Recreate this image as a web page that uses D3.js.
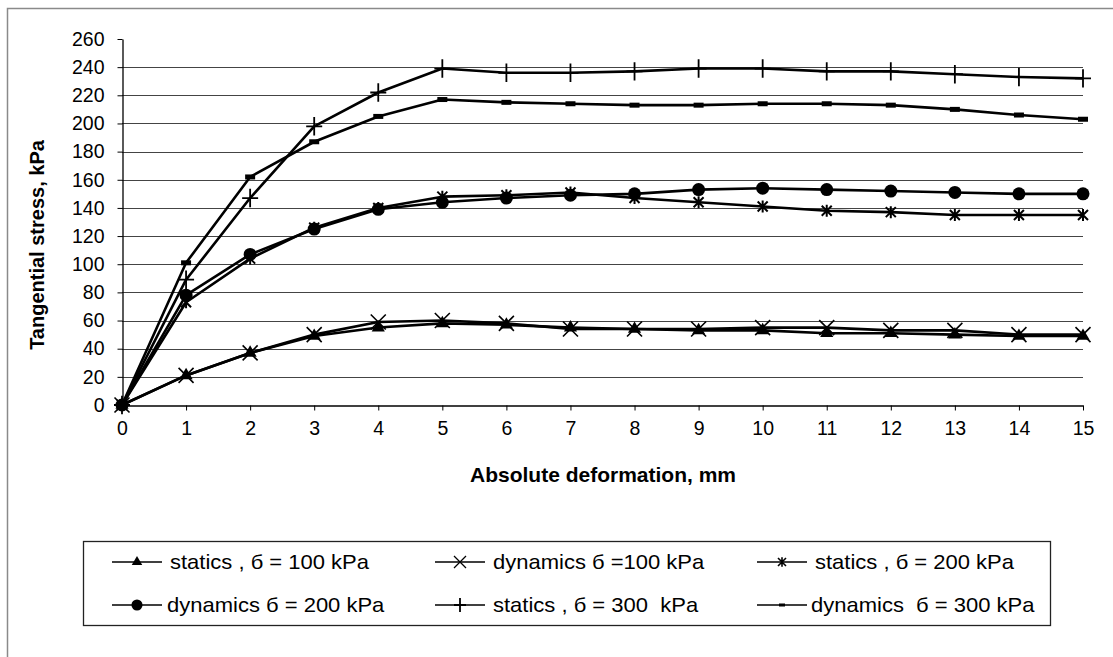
<!DOCTYPE html>
<html><head><meta charset="utf-8">
<script src="https://cdn.jsdelivr.net/npm/d3@7"></script>
<style>body{margin:0;background:#fff}svg{display:block}text{white-space:pre}</style>
</head><body>
<svg id="c" width="1113" height="657"></svg>
<script>
const deformation = [0,1,2,3,4,5,6,7,8,9,10,11,12,13,14,15];
const statics100  = [0,21,37,49,55,58,57,55,54,53,53,51,51,50,49,49];
const dynamics100 = [0,21,37,50,59,60,58,54,54,54,55,55,53,53,50,50];
const statics200  = [0,73,104,126,140,148,149,151,147,144,141,138,137,135,135,135];
const dynamics200 = [0,78,107,125,139,144,147,149,150,153,154,153,152,151,150,150];
const statics300  = [0,89,147,198,222,239,236,236,237,239,239,237,237,235,233,232];
const dynamics300 = [0,101,162,187,205,217,215,214,213,213,214,214,213,210,206,203];
const yTicks = [0,20,40,60,80,100,120,140,160,180,200,220,240,260];
const seriesNames = ["statics , б = 100 kPa","dynamics б =100 kPa","statics , б = 200 kPa",
                     "dynamics б = 200 kPa","statics , б = 300  kPa","dynamics  б = 300 kPa"];
const seriesMarkers = ["triangle","cross","asterisk","circle","plus","dash"];
const seriesValues = [statics100,dynamics100,statics200,dynamics200,statics300,dynamics300];

const svg = d3.select("#c");
const font = "Liberation Sans, Arial, sans-serif";

// outer frame
svg.append("path").attr("d","M7.5,657 V8.5 H1113").attr("fill","none").attr("stroke","#8a8a8a").attr("stroke-width",1.5);

const x = d3.scaleLinear().domain([0,15]).range([122,1083]);
const y = d3.scaleLinear().domain([0,260]).range([405,39]);

// grid
svg.append("g").selectAll("line").data(yTicks.filter(d=>d>0 && d<260)).join("line")
  .attr("x1",x(0)).attr("x2",x(15)).attr("y1",d=>Math.round(y(d))+0.5).attr("y2",d=>Math.round(y(d))+0.5)
  .attr("stroke","#444").attr("stroke-width",1);

// y axis
const ya = svg.append("g").attr("transform","translate(122.5,0)")
  .call(d3.axisLeft(y).tickValues(yTicks).tickSize(5).tickPadding(13).tickSizeOuter(0));
ya.select(".domain").attr("stroke","#000").attr("stroke-width",1.3);
ya.selectAll(".tick line").attr("stroke","#000");
ya.selectAll("text").attr("font-family",font).attr("font-size",19.5).attr("fill","#000");

// x axis
const xa = svg.append("g").attr("transform","translate(0,405.5)")
  .call(d3.axisBottom(x).tickValues(deformation).tickSize(5).tickPadding(11).tickSizeOuter(0));
xa.select(".domain").attr("stroke","#000").attr("stroke-width",1.3);
xa.selectAll(".tick line").attr("stroke","#000");
xa.selectAll("text").attr("font-family",font).attr("font-size",19.5).attr("fill","#000");

// titles
svg.append("text").attr("x",603).attr("y",482).attr("text-anchor","middle")
  .attr("font-family",font).attr("font-weight","bold").attr("font-size",21).text("Absolute deformation, mm");
svg.append("text").attr("transform","translate(44,245) rotate(-90)").attr("text-anchor","middle")
  .attr("font-family",font).attr("font-weight","bold").attr("font-size",20).text("Tangential stress, kPa");

function marker(g, type, cx, cy, s){
  s = s||1;
  if(type==="triangle"){
    g.append("path").attr("d",d3.symbol(d3.symbolTriangle,75*s*s)()).attr("transform",`translate(${cx},${cy})`).attr("fill","#000");
  } else if(type==="circle"){
    g.append("circle").attr("cx",cx).attr("cy",cy).attr("r",6.5*s).attr("fill","#000");
  } else if(type==="cross"){
    const r=7.5*s;
    g.append("path").attr("d",`M${cx-r},${cy-r}L${cx+r},${cy+r}M${cx-r},${cy+r}L${cx+r},${cy-r}`).attr("stroke","#000").attr("stroke-width",1.6*Math.max(s,0.7)).attr("fill","none");
  } else if(type==="asterisk"){
    const r=5*s;
    g.append("path").attr("d",`M${cx-r},${cy-r}L${cx+r},${cy+r}M${cx-r},${cy+r}L${cx+r},${cy-r}M${cx},${cy-r*1.2}L${cx},${cy+r*1.2}`).attr("stroke","#000").attr("stroke-width",2*Math.max(s,0.7)).attr("fill","none");
  } else if(type==="plus"){
    const r=8*s;
    g.append("path").attr("d",`M${cx-r},${cy}L${cx+r},${cy}M${cx},${cy-r*1.15}L${cx},${cy+r*1.15}`).attr("stroke","#000").attr("stroke-width",1.8).attr("fill","none");
  } else if(type==="dash"){
    g.append("rect").attr("x",cx-5*s).attr("y",cy-2.5*s).attr("width",10*s).attr("height",5*s).attr("fill","#000");
  }
}

const line = d3.line().x((d,i)=>x(deformation[i])).y(d=>y(d));
const plot = svg.append("g");
seriesValues.forEach((vals,k)=>{
  plot.append("path").datum(vals).attr("d",line).attr("fill","none").attr("stroke","#000").attr("stroke-width",2.6).attr("stroke-linejoin","round");
});
seriesValues.forEach((vals,k)=>{
  vals.forEach((v,i)=>marker(plot, seriesMarkers[k], x(deformation[i]), y(v), 1));
});

// legend
svg.append("rect").attr("x",83.5).attr("y",541.5).attr("width",967).attr("height",84)
  .attr("fill","none").attr("stroke","#222").attr("stroke-width",1.3);
const colX = [112,435,757];
const rowY = [562,605];
seriesNames.forEach((name,k)=>{
  const cx = colX[k%3], cy = rowY[Math.floor(k/3)];
  const g = svg.append("g");
  g.append("line").attr("x1",cx).attr("x2",cx+50).attr("y1",cy).attr("y2",cy).attr("stroke","#000").attr("stroke-width",1.3);
  const ms = seriesMarkers[k]==="circle"?0.85:(seriesMarkers[k]==="plus"?0.75:(seriesMarkers[k]==="dash"?0.6:0.8));
  marker(g, seriesMarkers[k], cx+25, cy, ms);
  const tx = k===3 ? cx+55 : (k===5 ? cx+54 : cx+58);
  g.append("text").attr("transform",`translate(${tx},${cy+7}) scale(1.1,1)`)
    .attr("font-family",font).attr("font-size",20).attr("fill","#000").text(name);
});
</script>
</body></html>
